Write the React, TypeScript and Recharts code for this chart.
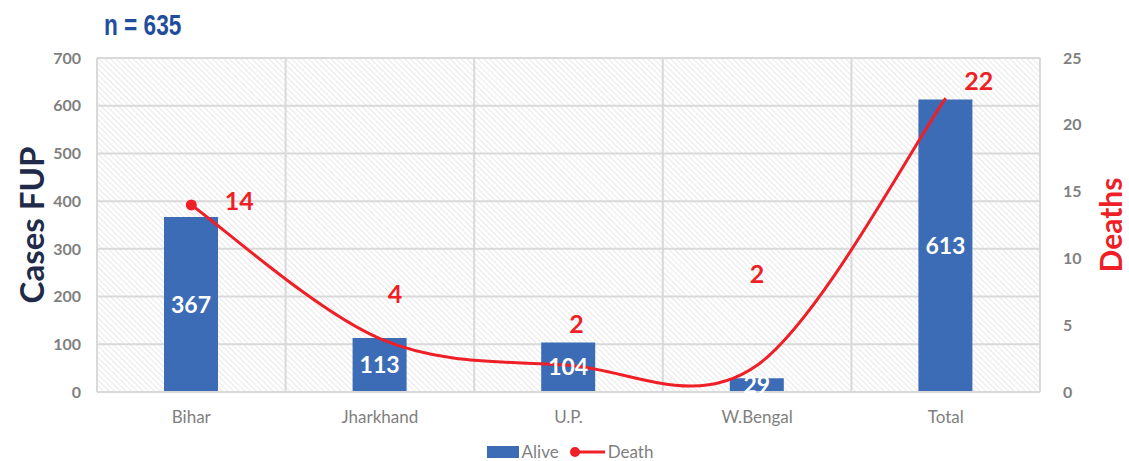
import React from "react";
import {
  ComposedChart,
  Bar,
  Line,
  XAxis,
  YAxis,
  CartesianGrid,
  Legend,
  LabelList,
} from "recharts";

const categories = ["Bihar", "Jharkhand", "U.P.", "W.Bengal", "Total"];
const alive = [367, 113, 104, 29, 613];
const death = [14, 4, 2, 2, 22];
const leftTicks = [0, 100, 200, 300, 400, 500, 600, 700];
const rightTicks = [0, 5, 10, 15, 20, 25];
const title = "n = 635";

// label offsets (styling only) for death labels
const deathLabelOffsets = [
  [48, -5],
  [15, -46],
  [8, -42],
  [0, -92],
  [33, -18],
];

const data = categories.map((c, i) => ({ name: c, Alive: alive[i], Death: death[i] }));

// Excel-like smoothing: Catmull-Rom bezier
function excelSmooth(context: any) {
  let pts: number[][] = [];
  return {
    areaStart() {},
    areaEnd() {},
    lineStart() {
      pts = [];
    },
    lineEnd() {
      if (!pts.length) return;
      context.moveTo(pts[0][0], pts[0][1]);
      for (let i = 0; i < pts.length - 1; i++) {
        const p0 = pts[i - 1] || pts[i];
        const p1 = pts[i];
        const p2 = pts[i + 1];
        const p3 = pts[i + 2] || p2;
        const c1x = p1[0] + (p2[0] - p0[0]) / 6;
        const c1y = p1[1] + (p2[1] - p0[1]) / 6;
        const c2x = p2[0] - (p3[0] - p1[0]) / 6;
        const c2y = p2[1] - (p3[1] - p1[1]) / 6;
        context.bezierCurveTo(c1x, c1y, c2x, c2y, p2[0], p2[1]);
      }
    },
    point(x: number, y: number) {
      pts.push([+x, +y]);
    },
  };
}

const GREY = "#7f7f7f";
const BLUE = "#3b6cb5";
const RED = "#ee1f27";
const FONT = "Lato, 'Open Sans', sans-serif";

const DeathLabel = (props: any) => {
  const { x, y, value, index } = props;
  const off = deathLabelOffsets[index] || [0, -20];
  return (
    <text
      x={x + off[0]}
      y={y + off[1]}
      textAnchor="middle"
      dominantBaseline="central"
      fill={RED}
      fontSize={25}
      fontWeight={700}
      fontFamily={FONT}
    >
      {value}
    </text>
  );
};

const DeathDot = (props: any) => {
  const { cx, cy, index } = props;
  if (index !== 0) return <g key={`d${index}`} />;
  return <circle key={`d${index}`} cx={cx} cy={cy} r={5.5} fill={RED} />;
};

const renderLegend = () => (
  <div
    style={{
      display: "flex",
      justifyContent: "center",
      alignItems: "center",
      fontFamily: FONT,
      fontSize: 17,
      color: GREY,
      paddingLeft: 11,
      lineHeight: "16px",
    }}
  >
    <svg width={32} height={12} style={{ marginRight: 3 }}>
      <rect x={0} y={0} width={32} height={12} fill={BLUE} />
    </svg>
    <span style={{ marginRight: 10 }}>Alive</span>
    <svg width={36} height={14} style={{ marginRight: 3 }}>
      <line x1={4} y1={7} x2={36} y2={7} stroke={RED} strokeWidth={3} />
      <circle cx={6} cy={7} r={5} fill={RED} />
    </svg>
    <span>Death</span>
  </div>
);

export default function App() {
  return (
    <div style={{ position: "absolute", left: 0, top: 0, width: 1129, height: 461, background: "#fff" }}>
      <div
        style={{
          position: "absolute",
          left: 104,
          top: 9,
          fontFamily: "'Liberation Sans', Arial, sans-serif",
          fontWeight: 700,
          fontSize: 29,
          color: "#1f4e9c",
          lineHeight: "32px",
          transform: "scaleX(0.78)",
          transformOrigin: "left center",
          whiteSpace: "nowrap",
        }}
      >
        {title}
      </div>
      <ComposedChart
        width={1129}
        height={461}
        data={data}
        margin={{ top: 58, right: 0, bottom: 23, left: 0 }}
        barCategoryGap={0}
      >
        <defs>
          <pattern id="hatch" width="4" height="4" patternUnits="userSpaceOnUse" patternTransform="rotate(-45)">
            <rect width="4" height="4" fill="#ffffff" />
            <line x1="0" y1="0" x2="0" y2="4" stroke="#e2e2e2" strokeWidth="1.6" />
          </pattern>
        </defs>
        <CartesianGrid
          stroke="#d9d9d9"
          strokeWidth={2}
          fill="url(#hatch)"
          yAxisId="left"
          verticalCoordinatesGenerator={({ offset }: any) => {
            const w = offset.width / categories.length;
            return categories.map((_, i) => offset.left + i * w).concat([offset.left + offset.width]);
          }}
        />
        <XAxis
          dataKey="name"
          height={30}
          tickLine={false}
          axisLine={{ stroke: "#d9d9d9", strokeWidth: 2 }}
          tick={{ fill: GREY, fontSize: 17, fontFamily: FONT }}
          tickMargin={13}
        />
        <YAxis
          yAxisId="left"
          width={97}
          domain={[0, 700]}
          ticks={leftTicks}
          tickLine={false}
          axisLine={false}
          tickSize={0}
          tickMargin={16}
          tick={{ fill: GREY, fontSize: 16, fontWeight: 700, fontFamily: FONT }}
          label={{
            value: "Cases FUP",
            angle: -90,
            position: "insideLeft",
            dx: 27,
            style: { fill: "#1f2b48", fontSize: 33, fontWeight: 700, fontFamily: FONT, textAnchor: "middle" },
          }}
        />
        <YAxis
          yAxisId="right"
          orientation="right"
          width={89}
          domain={[0, 25]}
          ticks={rightTicks}
          tickLine={false}
          axisLine={false}
          tickSize={0}
          tickMargin={23}
          tick={{ fill: GREY, fontSize: 16, fontWeight: 700, fontFamily: FONT, textAnchor: "start" }}
          label={{
            value: "Deaths",
            angle: -90,
            position: "insideRight",
            dx: -13,
            style: { fill: RED, fontSize: 30, fontWeight: 700, fontFamily: FONT, textAnchor: "middle" },
          }}
        />
        <Bar yAxisId="left" dataKey="Alive" fill={BLUE} barSize={54} isAnimationActive={false}>
          <LabelList
            dataKey="Alive"
            position="center"
            fill="#ffffff"
            fontSize={23}
            fontWeight={700}
            fontFamily={FONT}
          />
        </Bar>
        <Line
          yAxisId="right"
          dataKey="Death"
          type={excelSmooth as any}
          stroke={RED}
          strokeWidth={3}
          dot={DeathDot}
          activeDot={false}
          isAnimationActive={false}
        >
          <LabelList dataKey="Death" content={DeathLabel} />
        </Line>
        <Legend
          verticalAlign="bottom"
          content={renderLegend}
          wrapperStyle={{ position: "absolute", left: 0, top: 444, width: 1129, height: 16 }}
        />
      </ComposedChart>
    </div>
  );
}
